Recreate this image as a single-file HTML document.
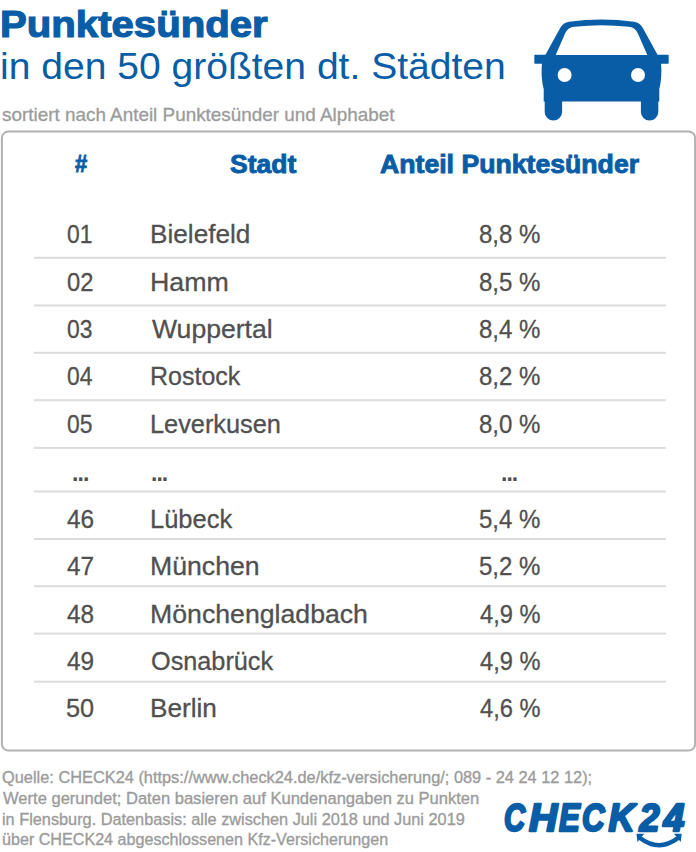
<!DOCTYPE html>
<html><head><meta charset="utf-8"><title>Punktesünder</title>
<style>
html,body{margin:0;padding:0;background:#fff;}
body{width:696px;height:852px;position:relative;overflow:hidden;font-family:"Liberation Sans",Arial,sans-serif;}
.t{position:absolute;white-space:nowrap;transform-origin:0 0;}
.car{position:absolute;left:520px;top:0;}
.logo{position:absolute;left:0;top:0;}
</style></head><body>

<div class="t" style="left:-0.14px;top:5.77px;font-size:37.6px;line-height:37.6px;font-weight:700;color:#085da6;-webkit-text-stroke:1.2px #085da6;transform:scaleX(1.0683);">Punktesünder</div>
<div class="t" style="left:0.08px;top:47.63px;font-size:37.3px;line-height:37.3px;color:#085da6;transform:scaleX(1.0468);">in den 50 größten dt. Städten</div>
<div class="t" style="left:2.00px;top:105.62px;font-size:18.4px;line-height:18.4px;color:#9b9b9b;-webkit-text-stroke:0.3px #9b9b9b;transform:scaleX(1.0266);">sortiert nach Anteil Punktesünder und Alphabet</div>
<div class="t" style="left:74.73px;top:152.16px;font-size:24.5px;line-height:24.5px;font-weight:700;color:#085da6;-webkit-text-stroke:0.9px #085da6;transform:scaleX(0.8935);">#</div>
<div class="t" style="left:229.77px;top:152.34px;font-size:25.0px;line-height:25.0px;font-weight:700;color:#085da6;-webkit-text-stroke:0.9px #085da6;transform:scaleX(1.0604);">Stadt</div>
<div class="t" style="left:380.08px;top:152.34px;font-size:25.0px;line-height:25.0px;font-weight:700;color:#085da6;-webkit-text-stroke:0.9px #085da6;transform:scaleX(1.0658);">Anteil Punktesünder</div>
<div class="t" style="left:67.26px;top:221.19px;font-size:26px;line-height:26px;color:#505050;-webkit-text-stroke:0.3px #505050;transform:scaleX(0.8792);">01</div>
<div class="t" style="left:150.18px;top:221.19px;font-size:26px;line-height:26px;color:#505050;-webkit-text-stroke:0.3px #505050;transform:scaleX(1.0063);">Bielefeld</div>
<div class="t" style="left:478.82px;top:221.19px;font-size:26px;line-height:26px;color:#505050;-webkit-text-stroke:0.3px #505050;transform:scaleX(0.9245);">8,8 %</div>
<div class="t" style="left:67.26px;top:268.59px;font-size:26px;line-height:26px;color:#505050;-webkit-text-stroke:0.3px #505050;transform:scaleX(0.9144);">02</div>
<div class="t" style="left:150.15px;top:268.59px;font-size:26px;line-height:26px;color:#505050;-webkit-text-stroke:0.3px #505050;transform:scaleX(1.0298);">Hamm</div>
<div class="t" style="left:478.82px;top:268.59px;font-size:26px;line-height:26px;color:#505050;-webkit-text-stroke:0.3px #505050;transform:scaleX(0.9245);">8,5 %</div>
<div class="t" style="left:67.26px;top:315.99px;font-size:26px;line-height:26px;color:#505050;-webkit-text-stroke:0.3px #505050;transform:scaleX(0.8792);">03</div>
<div class="t" style="left:152.21px;top:315.99px;font-size:26px;line-height:26px;color:#505050;-webkit-text-stroke:0.3px #505050;transform:scaleX(1.0222);">Wuppertal</div>
<div class="t" style="left:478.82px;top:315.99px;font-size:26px;line-height:26px;color:#505050;-webkit-text-stroke:0.3px #505050;transform:scaleX(0.9245);">8,4 %</div>
<div class="t" style="left:67.26px;top:363.39px;font-size:26px;line-height:26px;color:#505050;-webkit-text-stroke:0.3px #505050;transform:scaleX(0.8792);">04</div>
<div class="t" style="left:150.26px;top:363.39px;font-size:26px;line-height:26px;color:#505050;-webkit-text-stroke:0.3px #505050;transform:scaleX(0.9614);">Rostock</div>
<div class="t" style="left:478.82px;top:363.39px;font-size:26px;line-height:26px;color:#505050;-webkit-text-stroke:0.3px #505050;transform:scaleX(0.9245);">8,2 %</div>
<div class="t" style="left:67.26px;top:410.79px;font-size:26px;line-height:26px;color:#505050;-webkit-text-stroke:0.3px #505050;transform:scaleX(0.8792);">05</div>
<div class="t" style="left:150.24px;top:410.79px;font-size:26px;line-height:26px;color:#505050;-webkit-text-stroke:0.3px #505050;transform:scaleX(0.9742);">Leverkusen</div>
<div class="t" style="left:478.82px;top:410.79px;font-size:26px;line-height:26px;color:#505050;-webkit-text-stroke:0.3px #505050;transform:scaleX(0.9245);">8,0 %</div>
<div class="t" style="left:67.23px;top:505.99px;font-size:26px;line-height:26px;color:#505050;-webkit-text-stroke:0.3px #505050;transform:scaleX(0.9359);">46</div>
<div class="t" style="left:150.23px;top:505.99px;font-size:26px;line-height:26px;color:#505050;-webkit-text-stroke:0.3px #505050;transform:scaleX(0.9808);">Lübeck</div>
<div class="t" style="left:478.82px;top:505.99px;font-size:26px;line-height:26px;color:#505050;-webkit-text-stroke:0.3px #505050;transform:scaleX(0.9245);">5,4 %</div>
<div class="t" style="left:67.23px;top:553.39px;font-size:26px;line-height:26px;color:#505050;-webkit-text-stroke:0.3px #505050;transform:scaleX(0.9359);">47</div>
<div class="t" style="left:150.16px;top:553.39px;font-size:26px;line-height:26px;color:#505050;-webkit-text-stroke:0.3px #505050;transform:scaleX(1.0250);">München</div>
<div class="t" style="left:478.82px;top:553.39px;font-size:26px;line-height:26px;color:#505050;-webkit-text-stroke:0.3px #505050;transform:scaleX(0.9245);">5,2 %</div>
<div class="t" style="left:67.23px;top:600.79px;font-size:26px;line-height:26px;color:#505050;-webkit-text-stroke:0.3px #505050;transform:scaleX(0.9359);">48</div>
<div class="t" style="left:150.16px;top:600.79px;font-size:26px;line-height:26px;color:#505050;-webkit-text-stroke:0.3px #505050;transform:scaleX(1.0257);">Mönchengladbach</div>
<div class="t" style="left:479.84px;top:600.79px;font-size:26px;line-height:26px;color:#505050;-webkit-text-stroke:0.3px #505050;transform:scaleX(0.9091);">4,9 %</div>
<div class="t" style="left:67.23px;top:648.19px;font-size:26px;line-height:26px;color:#505050;-webkit-text-stroke:0.3px #505050;transform:scaleX(0.9359);">49</div>
<div class="t" style="left:151.22px;top:648.19px;font-size:26px;line-height:26px;color:#505050;-webkit-text-stroke:0.3px #505050;transform:scaleX(0.9712);">Osnabrück</div>
<div class="t" style="left:479.84px;top:648.19px;font-size:26px;line-height:26px;color:#505050;-webkit-text-stroke:0.3px #505050;transform:scaleX(0.9091);">4,9 %</div>
<div class="t" style="left:66.20px;top:695.39px;font-size:26px;line-height:26px;color:#505050;-webkit-text-stroke:0.3px #505050;transform:scaleX(0.9719);">50</div>
<div class="t" style="left:150.18px;top:695.39px;font-size:26px;line-height:26px;color:#505050;-webkit-text-stroke:0.3px #505050;transform:scaleX(1.0064);">Berlin</div>
<div class="t" style="left:479.84px;top:695.39px;font-size:26px;line-height:26px;color:#505050;-webkit-text-stroke:0.3px #505050;transform:scaleX(0.9091);">4,6 %</div>
<div class="t" style="left:72.26px;top:461.18px;font-size:24px;line-height:24px;font-weight:700;color:#505050;letter-spacing:-1.0px;transform:scaleX(0.9604);">...</div>
<div class="t" style="left:151.45px;top:461.18px;font-size:24px;line-height:24px;font-weight:700;color:#505050;letter-spacing:-1.0px;transform:scaleX(0.9516);">...</div>
<div class="t" style="left:501.35px;top:461.18px;font-size:24px;line-height:24px;font-weight:700;color:#505050;letter-spacing:-1.0px;transform:scaleX(0.9516);">...</div>
<div class="t" style="left:1.75px;top:768.84px;font-size:17.2px;line-height:17.2px;color:#9b9b9b;-webkit-text-stroke:0.35px #9b9b9b;transform:scaleX(0.9518);">Quelle: CHECK24 (https://www.check24.de/kfz-versicherung/; 089 - 24 24 12 12);</div>
<div class="t" style="left:2.70px;top:789.74px;font-size:17.2px;line-height:17.2px;color:#9b9b9b;-webkit-text-stroke:0.35px #9b9b9b;transform:scaleX(0.9628);">Werte gerundet; Daten basieren auf Kundenangaben zu Punkten</div>
<div class="t" style="left:1.76px;top:810.74px;font-size:17.2px;line-height:17.2px;color:#9b9b9b;-webkit-text-stroke:0.35px #9b9b9b;transform:scaleX(0.9478);">in Flensburg. Datenbasis: alle zwischen Juli 2018 und Juni 2019</div>
<div class="t" style="left:1.77px;top:831.44px;font-size:17.2px;line-height:17.2px;color:#9b9b9b;-webkit-text-stroke:0.35px #9b9b9b;transform:scaleX(0.9376);">über CHECK24 abgeschlossenen Kfz-Versicherungen</div>
<svg class="car" width="176" height="130" viewBox="520 0 176 130">
<g fill="#085da6">
<path d="M544.80 56 L559.90 28.6 Q563.10 22.4 569.00 21.8 Q601.50 17.4 634.00 21.8 Q639.90 22.4 643.10 28.6 L658.20 56 Z"/>
<rect x="534.30" y="54.8" width="134.4" height="8.9" rx="0.8"/>
<path d="M542.30 60 L660.70 60 C661.80 69 661.70 80 659.30 89 L659.30 101.4 L543.70 101.4 L543.70 89 C541.30 80 541.20 69 542.30 60 Z"/>
<path d="M544.70 95 L562.10 95 L562.10 111.90 A8.70 8.70 0 0 1 544.70 111.90 Z"/>
<path d="M640.90 95 L658.30 95 L658.30 111.90 A8.70 8.70 0 0 1 640.90 111.90 Z"/>
</g>
<path fill="#fff" d="M555.70 55 L565.30 33.0 Q568.10 27.2 574.50 26.7 Q601.50 23.6 628.50 26.7 Q634.90 27.2 637.70 33.0 L647.30 55 Z"/>
<circle cx="564.60" cy="75" r="7" fill="#fff"/>
<circle cx="638.00" cy="75" r="7" fill="#fff"/>
</svg>
<svg class="logo" width="696" height="852" viewBox="0 0 696 852"><g font-family="'Liberation Sans', Arial, sans-serif" font-weight="700" font-style="italic" font-size="38" fill="#085da6" stroke="#085da6" stroke-width="2.4" stroke-linejoin="round"><text x="504.0" y="830.8" textLength="21.11" lengthAdjust="spacingAndGlyphs">C</text><text x="529.0" y="830.8" textLength="28.28" lengthAdjust="spacingAndGlyphs">H</text><text x="559.0" y="830.8" textLength="20.8" lengthAdjust="spacingAndGlyphs">E</text><text x="582.0" y="830.8" textLength="22.56" lengthAdjust="spacingAndGlyphs">C</text><text x="608.5" y="830.8" textLength="26.04" lengthAdjust="spacingAndGlyphs">K</text><text x="639.5" y="830.8" textLength="20.03" lengthAdjust="spacingAndGlyphs">2</text><text x="663.5" y="830.8" textLength="20.9" lengthAdjust="spacingAndGlyphs">4</text></g>
<path d="M640 838 Q659 852.4 678 838" fill="none" stroke="#085da6" stroke-width="4.4"/>
<path d="M636.5 833.8 L644.2 833.8 L637.5 842 Z" fill="#085da6"/><path d="M674 833.8 L681.7 833.8 L680.7 842 Z" fill="#085da6"/></svg>
<svg class="logo" width="696" height="852" viewBox="0 0 696 852"><rect x="1.9" y="131.5" width="693.2" height="619" rx="6.5" fill="none" stroke="#b2b2b2" stroke-width="2"/><rect x="34" y="256.80" width="632" height="2" fill="#dcdcdc"/><rect x="34" y="304.50" width="632" height="2" fill="#dcdcdc"/><rect x="34" y="351.80" width="632" height="2" fill="#dcdcdc"/><rect x="34" y="399.20" width="632" height="2" fill="#dcdcdc"/><rect x="34" y="446.90" width="632" height="2" fill="#dcdcdc"/><rect x="34" y="490.50" width="632" height="2" fill="#dcdcdc"/><rect x="34" y="538.00" width="632" height="2" fill="#dcdcdc"/><rect x="34" y="585.20" width="632" height="2" fill="#dcdcdc"/><rect x="34" y="632.60" width="632" height="2" fill="#dcdcdc"/><rect x="34" y="680.70" width="632" height="2" fill="#dcdcdc"/></svg></body></html>
